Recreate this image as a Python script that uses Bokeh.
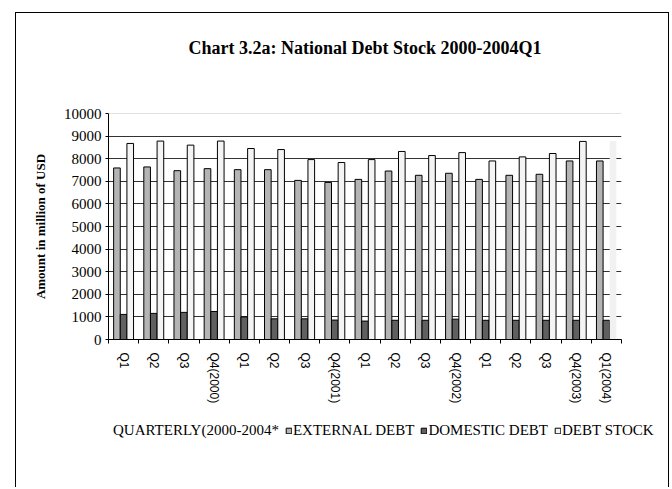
from bokeh.plotting import figure
from bokeh.models import (ColumnDataSource, FixedTicker, Range1d, Legend, LegendItem,
                          Title, Span, NumeralTickFormatter, CDSView, IndexFilter, Spacer)
from bokeh.layouts import column, row
from bokeh.transform import dodge
from bokeh.embed import file_html
from bokeh.resources import INLINE

# ---- data (million USD) ----
categories = ["Q1", "Q2", "Q3", "Q4(2000)", "Q1", "Q2", "Q3", "Q4(2001)",
              "Q1", "Q2", "Q3", "Q4(2002)", "Q1", "Q2", "Q3", "Q4(2003)", "Q1(2004)"]
external_debt = [7590, 7635, 7470, 7560, 7515, 7515, 7040, 6950,
                 7085, 7455, 7265, 7355, 7085, 7265, 7310, 7900, 7900]
domestic_debt = [1110, 1155, 1200, 1240, 1000, 915, 915, 860,
                 815, 850, 850, 900, 850, 850, 850, 850, 850]
debt_stock = [8675, 8780, 8600, 8780, 8450, 8405, 7960, 7830,
              7960, 8320, 8140, 8270, 7900, 8080, 8230, 8765, 8780]
y_ticks = list(range(0, 10001, 1000))

title_text = "Chart 3.2a: National Debt Stock 2000-2004Q1"
y_title = "Amount in million of USD"
x_title = "QUARTERLY(2000-2004*"
series_names = ["EXTERNAL DEBT", "DOMESTIC DEBT", "DEBT STOCK"]

EXT_COLOR, DOM_COLOR, STOCK_COLOR = "#b4b4b4", "#606060", "#f4f4f4"

n = len(categories)
centers = [i + 0.5 for i in range(n)]
bar_w = 0.22

src = ColumnDataSource(dict(x=centers, label=categories, ext=external_debt,
                            dom=domestic_debt, stock=debt_stock))

p = figure(width=652, height=396, output_backend="svg", toolbar_location=None,
           x_range=Range1d(0, n), y_range=Range1d(0, 10000), title=None,
           min_border_left=92, min_border_right=47, min_border_top=100,
           min_border_bottom=70)
p.outline_line_color = None
p.background_fill_color = "white"
p.border_fill_color = "white"

p.vbar(x=dodge("x", -bar_w, range=p.x_range), top="ext", width=bar_w, source=src,
       fill_color=EXT_COLOR, line_color="black", line_width=1)
p.vbar(x="x", top="dom", width=bar_w, source=src,
       fill_color=DOM_COLOR, line_color="black", line_width=1)
p.vbar(x=dodge("x", bar_w, range=p.x_range), top="stock", width=bar_w, source=src,
       view=CDSView(filter=IndexFilter(list(range(n - 1)))),
       fill_color=STOCK_COLOR, line_color="black", line_width=1)
p.vbar(x=dodge("x", bar_w, range=p.x_range), top="stock", width=bar_w, source=src,
       view=CDSView(filter=IndexFilter([n - 1])),
       fill_color="#f1f1f1", line_color=None)

# top gridline lighter
p.add_layout(Span(location=10000, dimension="width", line_color="#c4c4c4", line_width=1))

# x axis
xa = p.xaxis[0]
xa.ticker = FixedTicker(ticks=centers, minor_ticks=list(range(n + 1)))
xa.major_label_overrides = {c: lab for c, lab in zip(centers, categories)}
xa.major_tick_out = 0
xa.major_tick_in = 0
xa.minor_tick_out = 4
xa.minor_tick_in = 0
xa.minor_tick_line_color = "black"
xa.axis_line_color = "black"
xa.major_label_orientation = "vertical"
xa.major_label_standoff = 9
xa.major_label_text_font = "Liberation Sans"
xa.major_label_text_font_size = "12px"
xa.major_label_text_color = "black"

# y axis
ya = p.yaxis[0]
ya.ticker = FixedTicker(ticks=y_ticks)
ya.formatter = NumeralTickFormatter(format="0")
ya.major_tick_out = 3
ya.major_tick_in = 0
ya.minor_tick_line_color = None
ya.axis_line_color = "black"
ya.major_tick_line_color = "black"
ya.major_label_standoff = 4
ya.major_label_text_font = "Liberation Serif"
ya.major_label_text_font_size = "15px"
ya.major_label_text_color = "black"
ya.axis_label = y_title
ya.axis_label_text_font = "Liberation Serif"
ya.axis_label_text_font_size = "13px"
ya.axis_label_text_font_style = "bold"
ya.axis_label_text_color = "black"
ya.axis_label_standoff = 13

p.xgrid.visible = False
p.ygrid.ticker = FixedTicker(ticks=y_ticks)
p.ygrid.grid_line_color = "#333333"
p.ygrid.grid_line_width = 1

# titles (spacer first so the real title sits higher)
p.add_layout(Title(text=" ", text_font_size="35px"), "above")
p.add_layout(Title(text=title_text, align="center", offset=-6, text_font="Liberation Serif",
                   text_font_size="18px", text_font_style="bold", text_color="black"), "above")

# ---- legend strip (x-axis title + the three series) ----
# same data source; the strip's x range lies away from the bars, so only the legend shows
p2 = figure(width=652, height=78, output_backend="svg", toolbar_location=None,
            x_range=Range1d(-3, -2), y_range=Range1d(0, 1), title=None,
            x_axis_type=None, y_axis_type=None, min_border=0,
            min_border_left=0, min_border_right=0, min_border_top=0, min_border_bottom=0)
p2.outline_line_color = None
p2.xgrid.visible = False
p2.ygrid.visible = False
g_blank = p2.vbar(x="x", top="ext", width=bar_w, source=src, fill_alpha=0, line_alpha=0)
g_ext = p2.vbar(x="x", top="ext", width=bar_w, source=src, fill_color=EXT_COLOR,
                line_color="black", line_width=1)
g_dom = p2.vbar(x="x", top="dom", width=bar_w, source=src, fill_color=DOM_COLOR,
                line_color="black", line_width=1)
g_stock = p2.vbar(x="x", top="stock", width=bar_w, source=src, fill_color=STOCK_COLOR,
                  line_color="black", line_width=1)
legend = Legend(items=[LegendItem(label=x_title, renderers=[g_blank]),
                       LegendItem(label=series_names[0], renderers=[g_ext]),
                       LegendItem(label=series_names[1], renderers=[g_dom]),
                       LegendItem(label=series_names[2], renderers=[g_stock])],
                orientation="horizontal", location=(89, 48), glyph_width=7, glyph_height=7,
                label_standoff=1, spacing=6, padding=0, margin=0, border_line_color=None,
                background_fill_alpha=0, label_text_font="Liberation Serif",
                label_text_font_size="15px", label_height=15, label_text_color="black")
p2.add_layout(legend, "center")

inner = column(p, row(p2), styles={"border-left": "1px solid black",
                                   "border-top": "1px solid black",
                                   "border-right": "1px solid black"})
layout = column(Spacer(width=1, height=12), row(Spacer(width=15, height=1), inner))

open("out.html", "w").write(file_html(layout, INLINE))
